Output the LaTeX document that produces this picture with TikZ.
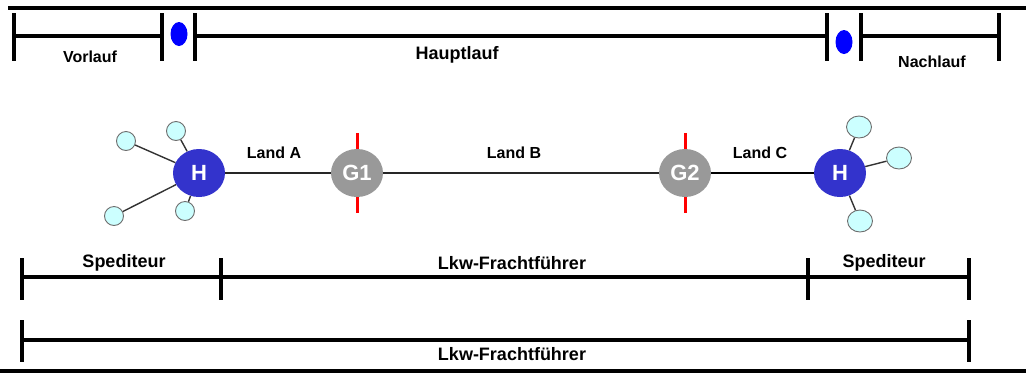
\documentclass[tikz,border=0pt]{standalone}
\usepackage{fontspec}
\setmainfont{Liberation Sans}
\usetikzlibrary{shapes.geometric}
\definecolor{hubblue}{RGB}{51,51,204}
\definecolor{gwgray}{RGB}{153,153,153}
\definecolor{satfill}{RGB}{204,255,255}
\definecolor{satline}{RGB}{110,110,110}
\begin{document}
\begin{tikzpicture}[x=1pt,y=-1pt,
  bar/.style={line width=3.6pt},
  tickline/.style={line width=3.6pt},
  lowbar/.style={line width=3.2pt},
  lbl/.style={font=\bfseries\fontsize{16}{18}\selectfont, inner sep=0pt},
  biglbl/.style={font=\bfseries\fontsize{18}{20}\selectfont, inner sep=0pt},
  hub/.style={ellipse, fill=hubblue, minimum width=52pt, minimum height=48pt, inner sep=0pt, text=white, font=\bfseries\fontsize{22}{22}\selectfont},
  gw/.style={ellipse, fill=gwgray, minimum width=52pt, minimum height=48pt, inner sep=0pt, text=white, font=\bfseries\fontsize{22}{22}\selectfont},
  sat/.style={ellipse, fill=satfill, draw=satline, line width=0.9pt, minimum width=19pt, minimum height=19pt, inner sep=0pt},
  bigsat/.style={sat, minimum width=25pt, minimum height=22pt},
  dot/.style={ellipse, fill=blue, minimum width=17pt, minimum height=24pt, inner sep=0pt},
  spoke/.style={draw=black!80, line width=1.4pt},
  link/.style={draw=black!85, line width=1.6pt},
  border/.style={red, line width=3pt}
]
\useasboundingbox (0,0) rectangle (1026,376);

% top rule
\coordinate (topL) at (8,8);
\coordinate (topR) at (1026,8);
\draw[bar] (topL) -- (topR);

% top timeline
\foreach \n/\x in {a/14,b/162,c/195,d/827,e/861,f/999}{
  \coordinate (t\n) at (\x,36);
  \draw[tickline] (\x,13) -- (\x,61);
}
\draw[bar] (ta) -- (tb);
\draw[bar] (tc) -- (td);
\draw[bar] (te) -- (tf);
\node[dot] (dot1) at (179,34) {};
\node[dot] (dot2) at (844,42) {};
\node[lbl] (vor) at (90,57) {Vorlauf};
\node[biglbl] (haupt) at (457,55) {Hauptlauf};
\node[lbl] (nach) at (932,62) {Nachlauf};

% network
\node[hub] (H1) at (199,173) {H};
\node[gw] (G1) at (357,173) {G1};
\node[gw] (G2) at (685,173) {G2};
\node[hub] (H2) at (840,173) {H};

\draw[border] (G1.north) -- ++(0,-16);
\draw[border] (G1.south) -- ++(0,16);
\draw[border] (G2.north) -- ++(0,-16);
\draw[border] (G2.south) -- ++(0,16);

\node[sat] (s1) at (126,141) {};
\node[sat] (s2) at (176,131) {};
\node[sat] (s3) at (114,216) {};
\node[sat] (s4) at (185,211) {};
\node[bigsat] (s5) at (859,127) {};
\node[bigsat] (s6) at (899,158) {};
\node[bigsat] (s7) at (860,221) {};

\foreach \s in {s1,s2,s3,s4}{ \draw[spoke] (H1) -- (\s); }
\foreach \s in {s5,s6,s7}{ \draw[spoke] (H2) -- (\s); }

\draw[link] (H1) -- (G1);
\draw[link] (G1) -- (G2);
\draw[link, line width=2.6pt, draw=black] (G2) -- (H2);

\node[lbl] (la) at (274,153) {Land A};
\node[lbl] (lb) at (514,153) {Land B};
\node[lbl] (lc) at (760,153) {Land C};

% bottom timelines
\foreach \n/\x in {p/22,q/221,r/808,s/969}{
  \coordinate (u\n) at (\x,277);
  \draw[lowbar] (\x,258) -- (\x,300);
}
\draw[lowbar] (up) -- (uq) -- (ur) -- (us);
\node[biglbl] (sp1) at (124,263) {Spediteur};
\node[biglbl] (lk1) at (512,263) {Lkw-Frachtführer};
\node[biglbl] (sp2) at (884,263) {Spediteur};

\foreach \n/\x in {p/22,s/969}{
  \coordinate (v\n) at (\x,340);
  \draw[lowbar] (\x,320) -- (\x,362);
}
\draw[lowbar] (vp) -- (vs);
\node[biglbl] (lk2) at (512,354) {Lkw-Frachtführer};

\coordinate (botL) at (0,371);
\coordinate (botR) at (1026,371);
\draw[bar] (botL) -- (botR);
\end{tikzpicture}
\end{document}
